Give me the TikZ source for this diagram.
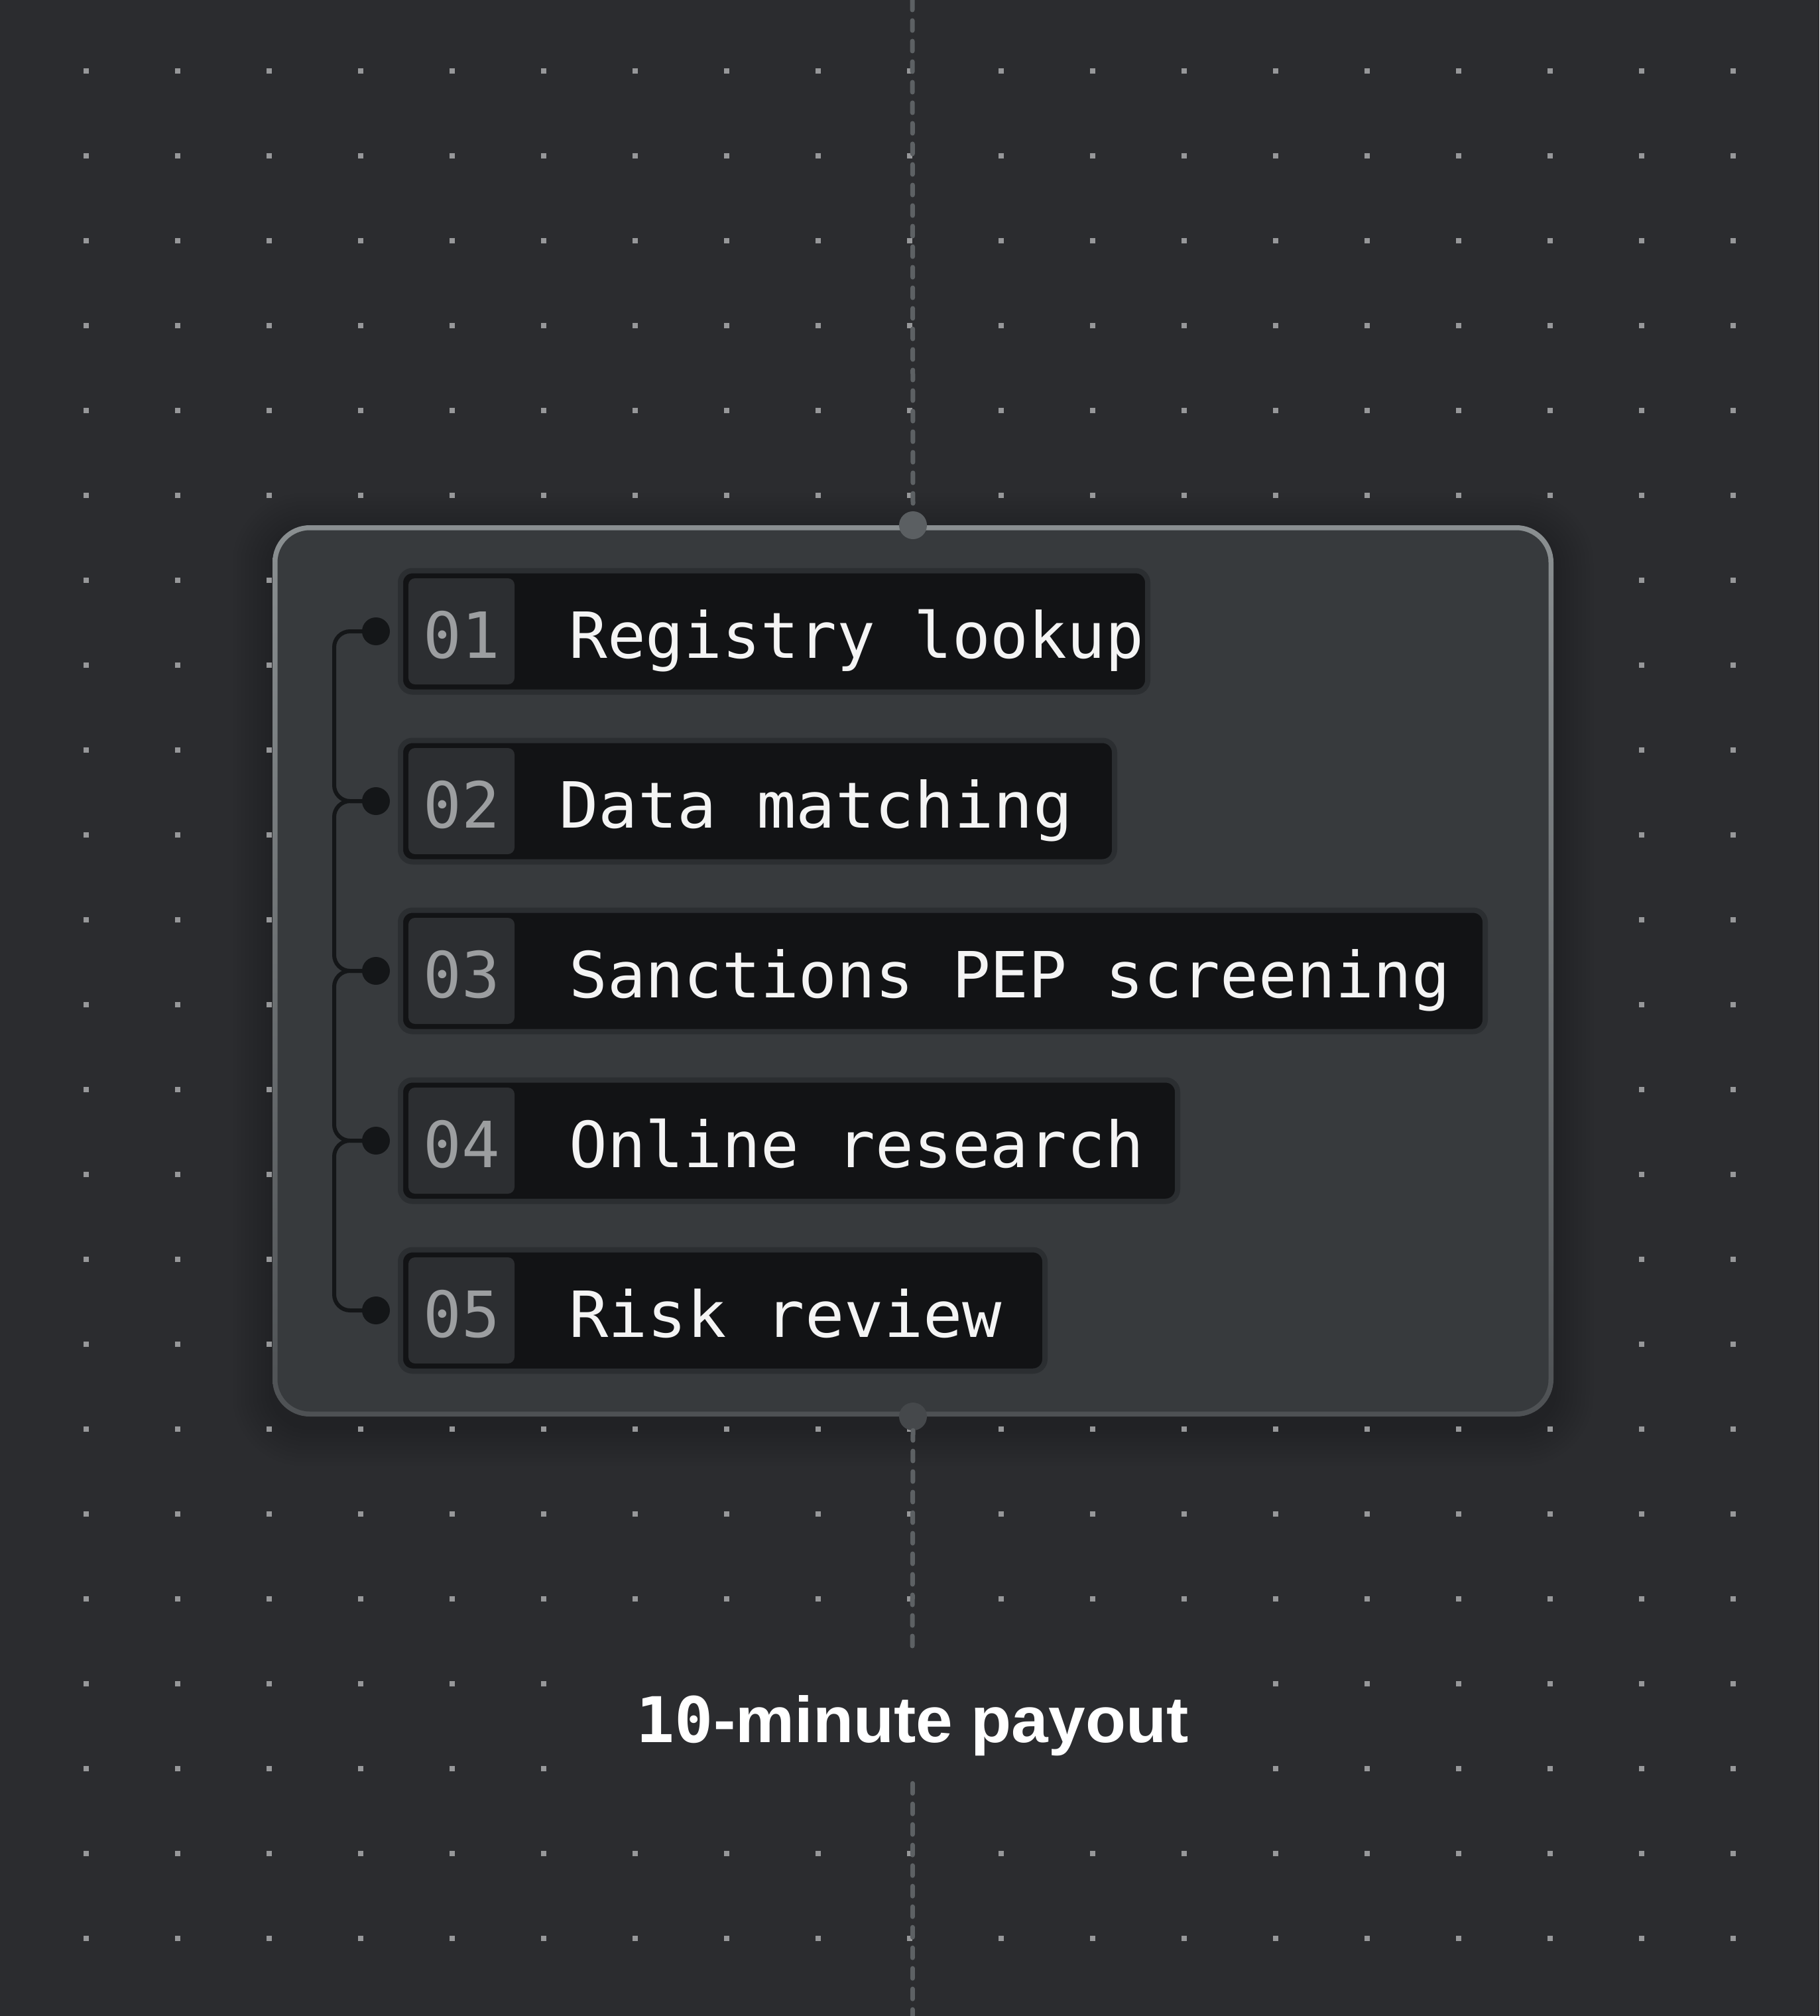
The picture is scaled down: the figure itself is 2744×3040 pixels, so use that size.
\documentclass[tikz,border=0pt]{standalone}
\usepackage{graphicx}
\usepackage{fontspec}
\setmainfont{Liberation Sans}
\newfontfamily\monof{DejaVu Sans Mono}
\usetikzlibrary{calc}
\definecolor{bgc}{HTML}{2B2C2F}
\definecolor{gridc}{HTML}{97989A}
\definecolor{dashc}{HTML}{5D6164}
\definecolor{bordtop}{HTML}{8A8F91}
\definecolor{bordbot}{HTML}{4E5154}
\definecolor{boxc}{HTML}{373A3D}
\definecolor{tdotc}{HTML}{5B5F62}
\definecolor{bdotc}{HTML}{45484B}
\definecolor{ringc}{HTML}{2B2E31}
\definecolor{stepk}{HTML}{121315}
\definecolor{numc}{HTML}{2C2E31}
\definecolor{numtc}{HTML}{9C9EA0}
\definecolor{busc}{HTML}{141618}
\definecolor{txtc}{HTML}{F4F4F4}
\newcommand\stepfont{\monof\fontsize{96pt}{110pt}\selectfont}
\tikzset{
  stepbox/.style={draw=ringc, line width=8pt, fill=stepk, rounded corners=18pt, minimum height=183pt, inner sep=0pt, outer sep=0pt, anchor=west},
  numbox/.style={fill=numc, rounded corners=10pt, minimum width=160pt, minimum height=160pt, inner sep=0pt, outer sep=0pt},
  numtxt/.style={anchor=base, text=numtc, font=\stepfont, inner sep=0pt},
  steptxt/.style={anchor=base west, text=txtc, font=\stepfont, inner sep=0pt},
  busdot/.style={circle, fill=busc, minimum size=42pt, inner sep=0pt, outer sep=0pt},
  bus/.style={draw=busc, line width=6pt, rounded corners=24pt},
  portdot/.style={circle, minimum size=42pt, inner sep=0pt, outer sep=0pt},
  dashline/.style={draw=dashc, line width=7pt, line cap=round, dash pattern=on 15pt off 16pt},
}
\begin{document}
\begin{tikzpicture}[x=1pt,y=-1pt]
\useasboundingbox (0,0) rectangle (2744,3040);
\fill[bgc] (0,0) rectangle (2744,3040);
% shadow of the card
\foreach \k in {1,...,10}{
  \pgfmathsetmacro\rr{56+5*\k}
  \fill[black, opacity=0.02, rounded corners=\rr pt] ({411-6*\k},{804-6*\k}) rectangle ({2343+6*\k},{2150+6*\k});
}
% dot grid
\foreach \i in {0,...,18}{
  \foreach \j in {0,...,22}{
    \fill[gridc] ({126+138*\i},{103+128*\j}) rectangle ++(8,8);
  }
}
% card
\node (card) [minimum width=1932pt, minimum height=1344pt, rounded corners=56pt, top color=bordtop, bottom color=bordbot, inner sep=0pt, outer sep=0pt] at (1377,1464) {};
\node (cardin) [fill=boxc, minimum width=1917pt, minimum height=1329pt, rounded corners=49pt, inner sep=0pt, outer sep=0pt] at (card.center) {};
\node (tdot) [portdot, fill=tdotc] at (card.north) {};
\node (bdot) [portdot, fill=bdotc] at (card.south) {};
% label
\node (lab) [fill=bgc, minimum width=1000pt, text height=139.7pt, text depth=61.3pt, inner sep=0pt, anchor=base, text=white] at (1376,2627.7) {\scalebox{1.02}[1]{{\monof\bfseries\fontsize{95pt}{110pt}\selectfont 10}{\bfseries\fontsize{98pt}{110pt}\selectfont -minute payout}}};
% dashed connectors
\coordinate (top0) at (1376,0);
\coordinate (bot0) at (1376,3040);
\draw[dashline] (top0) -- (tdot.north);
\draw[dashline] (bdot.south) -- (lab.north);
\draw[dashline] (lab.south) -- (bot0);
% steps
\coordinate (bx) at (504,0);
\foreach \n/\t/\r/\tx/\sx in {1/Registry lookup/1735/858/1, 2/Data matching/1685/843/1.031, 3/Sanctions PEP screening/2244/858/1, 4/Online research/1780/858/1, 5/Risk review/1580/858/1.027}{
  \pgfmathsetmacro\yc{952+256*(\n-1)}
  \pgfmathsetmacro\w{\r-608}
  \node (s\n) [stepbox, minimum width=\w pt] at (604,\yc) {};
  \node (n\n) [numbox] at (696,\yc) {};
  \node (nt\n) [numtxt] at (696,{\yc+40.7}) {0\n};
  \node (t\n) [steptxt] at (\tx,{\yc+40.7}) {\scalebox{\sx}[1]{\t}};
  \coordinate (d\n) at (567,\yc);
}
\foreach \a/\b in {1/2,2/3,3/4,4/5}{
  \draw[bus] (d\a) -| (d\b -| bx) -- (d\b);
}
\foreach \n in {1,...,5}{
  \node (dot\n) [busdot] at (d\n) {};
}
\end{tikzpicture}
\end{document}
